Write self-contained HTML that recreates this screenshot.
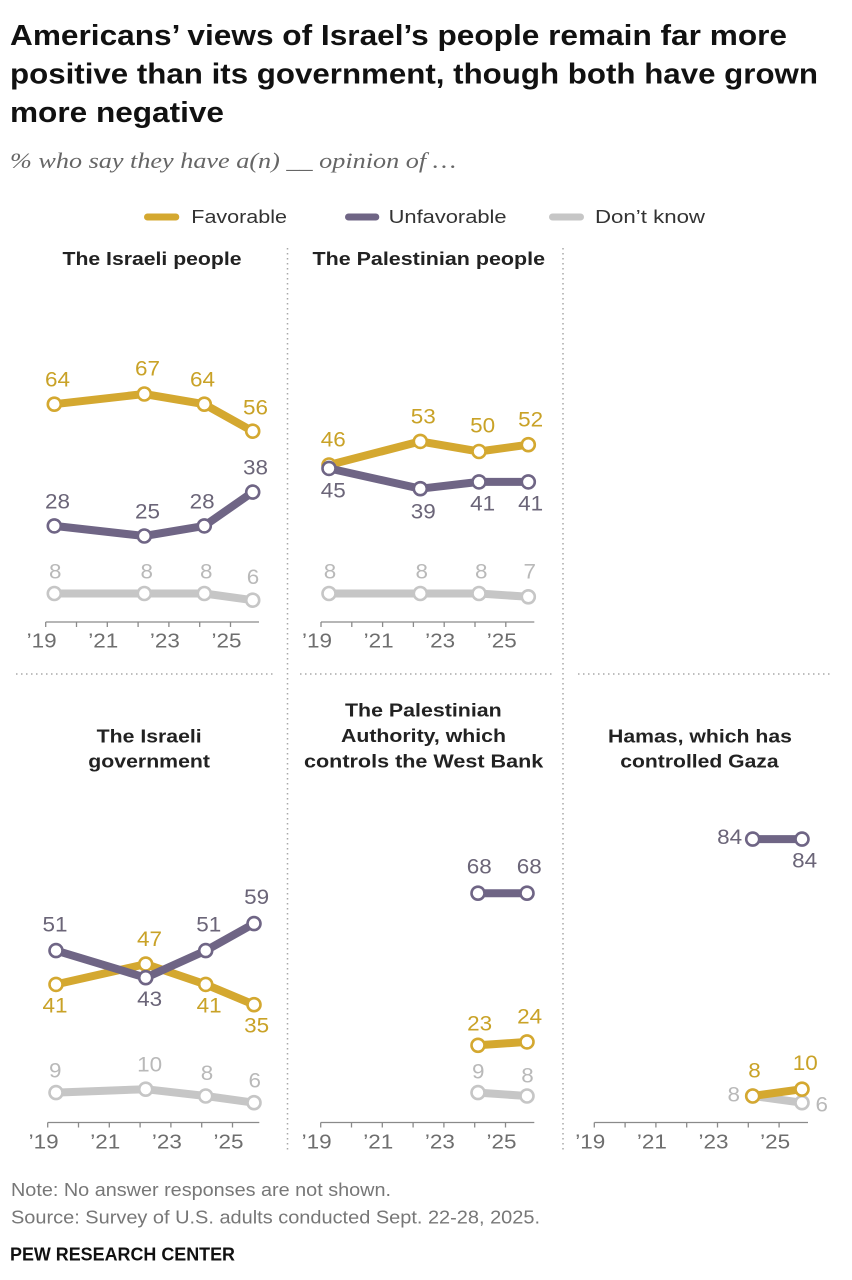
<!DOCTYPE html>
<html><head><meta charset="utf-8">
<style>
html,body{margin:0;padding:0;background:#fff;}
svg{display:block}
</style></head>
<body>
<svg width="852" height="1280" viewBox="0 0 852 1280" xmlns="http://www.w3.org/2000/svg">
<style>
text{font-family:"Liberation Sans",Arial,sans-serif}
.t{font-weight:bold;font-size:28.5px;fill:#111}
.sub{font-family:"Liberation Serif",serif;font-style:italic;font-size:22px;fill:#666}
.lg{font-size:18px;fill:#333}
.pt{font-weight:bold;font-size:18.5px;fill:#222}
.lf{fill:#C9A227;font-size:21px}
.lu{fill:#6B6578;font-size:21px}
.ld{fill:#B9B9B9;font-size:21px}
.tk{fill:#6e6e6e;font-size:20.5px}
.nt{fill:#777;font-size:18px}
.pew{font-weight:bold;font-size:18px;fill:#111}
.div{stroke:#a8a8a8;stroke-width:1.5;stroke-dasharray:1.5 3.5;fill:none}
.ax{stroke:#8a8a8a;stroke-width:1.3;fill:none}
.sf{stroke:#D4A830;stroke-width:8;fill:none;stroke-linejoin:round;stroke-linecap:round}
.su{stroke:#6F6585;stroke-width:8;fill:none;stroke-linejoin:round;stroke-linecap:round}
.sd{stroke:#C6C6C6;stroke-width:8;fill:none;stroke-linejoin:round;stroke-linecap:round}
.mf{fill:#fff;stroke:#D4A830;stroke-width:2.6}
.mu{fill:#fff;stroke:#6F6585;stroke-width:2.6}
.md{fill:#fff;stroke:#C6C6C6;stroke-width:2.6}
</style>

<!-- Title -->
<text class="t" x="10" y="45" textLength="777" lengthAdjust="spacingAndGlyphs">Americans’ views of Israel’s people remain far more</text>
<text class="t" x="10" y="83.5" textLength="808" lengthAdjust="spacingAndGlyphs">positive than its government, though both have grown</text>
<text class="t" x="10" y="122" textLength="214" lengthAdjust="spacingAndGlyphs">more negative</text>
<text class="sub" x="10" y="168" textLength="446" lengthAdjust="spacingAndGlyphs">% who say they have a(n) __ opinion of …</text>

<!-- Legend -->
<line x1="147.5" y1="217" x2="175.8" y2="217" stroke="#D4A830" stroke-width="7" stroke-linecap="round"/>
<text class="lg" x="191.3" y="223" textLength="95.7" lengthAdjust="spacingAndGlyphs">Favorable</text>
<line x1="348.5" y1="217" x2="375.8" y2="217" stroke="#6F6585" stroke-width="7" stroke-linecap="round"/>
<text class="lg" x="388.6" y="223" textLength="118" lengthAdjust="spacingAndGlyphs">Unfavorable</text>
<line x1="552.5" y1="217" x2="580.5" y2="217" stroke="#C6C6C6" stroke-width="7" stroke-linecap="round"/>
<text class="lg" x="595" y="223" textLength="110" lengthAdjust="spacingAndGlyphs">Don’t know</text>

<!-- Dividers -->
<line class="div" x1="287.5" y1="248" x2="287.5" y2="1150"/>
<line class="div" x1="563" y1="248" x2="563" y2="1150"/>
<line class="div" x1="16" y1="674" x2="273" y2="674"/>
<line class="div" x1="300" y1="674" x2="553" y2="674"/>
<line class="div" x1="578" y1="674" x2="831" y2="674"/>

<!-- Panel titles -->
<text class="pt" x="62.5" y="265" textLength="179" lengthAdjust="spacingAndGlyphs">The Israeli people</text>
<text class="pt" x="312.5" y="265" textLength="232.5" lengthAdjust="spacingAndGlyphs">The Palestinian people</text>
<text class="pt" x="96.7" y="742.3" textLength="105" lengthAdjust="spacingAndGlyphs">The Israeli</text>
<text class="pt" x="88.3" y="767.5" textLength="121.7" lengthAdjust="spacingAndGlyphs">government</text>
<text class="pt" x="345" y="716.3" textLength="156.7" lengthAdjust="spacingAndGlyphs">The Palestinian</text>
<text class="pt" x="341" y="742" textLength="165" lengthAdjust="spacingAndGlyphs">Authority, which</text>
<text class="pt" x="304" y="767.3" textLength="239.3" lengthAdjust="spacingAndGlyphs">controls the West Bank</text>
<text class="pt" x="608" y="742.3" textLength="184" lengthAdjust="spacingAndGlyphs">Hamas, which has</text>
<text class="pt" x="620.3" y="767.3" textLength="158.3" lengthAdjust="spacingAndGlyphs">controlled Gaza</text>

<!-- Axes -->
<path class="ax" d="M45.7 622H259 M45.7 622v5 M76.5 622v5 M107.3 622v5 M138.1 622v5 M168.9 622v5 M199.7 622v5 M230.5 622v5"/>
<path class="ax" d="M321 622H534.3 M321 622v5 M351.8 622v5 M382.6 622v5 M413.4 622v5 M444.2 622v5 M475 622v5 M505.8 622v5"/>
<path class="ax" d="M47.7 1122.5H259.3 M47.7 1122.5v5 M78.5 1122.5v5 M109.3 1122.5v5 M140.1 1122.5v5 M170.9 1122.5v5 M201.7 1122.5v5 M232.5 1122.5v5"/>
<path class="ax" d="M320.7 1122.5H534.3 M320.7 1122.5v5 M351.5 1122.5v5 M382.3 1122.5v5 M413.1 1122.5v5 M443.9 1122.5v5 M474.7 1122.5v5 M505.5 1122.5v5"/>
<path class="ax" d="M594.3 1122.5H808 M594.3 1122.5v5 M625.1 1122.5v5 M655.9 1122.5v5 M686.7 1122.5v5 M717.5 1122.5v5 M748.3 1122.5v5 M779.1 1122.5v5"/>

<!-- Tick labels -->
<g class="tk">
<text x="26.7" y="647.3" textLength="30" lengthAdjust="spacingAndGlyphs">’19</text>
<text x="88.3" y="647.3" textLength="30" lengthAdjust="spacingAndGlyphs">’21</text>
<text x="149.9" y="647.3" textLength="30" lengthAdjust="spacingAndGlyphs">’23</text>
<text x="211.5" y="647.3" textLength="30" lengthAdjust="spacingAndGlyphs">’25</text>
<text x="302" y="647.3" textLength="30" lengthAdjust="spacingAndGlyphs">’19</text>
<text x="363.6" y="647.3" textLength="30" lengthAdjust="spacingAndGlyphs">’21</text>
<text x="425.2" y="647.3" textLength="30" lengthAdjust="spacingAndGlyphs">’23</text>
<text x="486.8" y="647.3" textLength="30" lengthAdjust="spacingAndGlyphs">’25</text>
<text x="28.7" y="1148.3" textLength="30" lengthAdjust="spacingAndGlyphs">’19</text>
<text x="90.3" y="1148.3" textLength="30" lengthAdjust="spacingAndGlyphs">’21</text>
<text x="151.9" y="1148.3" textLength="30" lengthAdjust="spacingAndGlyphs">’23</text>
<text x="213.5" y="1148.3" textLength="30" lengthAdjust="spacingAndGlyphs">’25</text>
<text x="301.7" y="1148.3" textLength="30" lengthAdjust="spacingAndGlyphs">’19</text>
<text x="363.3" y="1148.3" textLength="30" lengthAdjust="spacingAndGlyphs">’21</text>
<text x="424.9" y="1148.3" textLength="30" lengthAdjust="spacingAndGlyphs">’23</text>
<text x="486.5" y="1148.3" textLength="30" lengthAdjust="spacingAndGlyphs">’25</text>
<text x="575.3" y="1148.3" textLength="30" lengthAdjust="spacingAndGlyphs">’19</text>
<text x="636.9" y="1148.3" textLength="30" lengthAdjust="spacingAndGlyphs">’21</text>
<text x="698.5" y="1148.3" textLength="30" lengthAdjust="spacingAndGlyphs">’23</text>
<text x="760.1" y="1148.3" textLength="30" lengthAdjust="spacingAndGlyphs">’25</text>
</g>

<!-- Panel 1: Israeli people -->
<polyline class="sd" points="54.3,593.5 144.3,593.5 204.3,593.5 252.7,600.2"/>
<circle class="md" cx="54.3" cy="593.5" r="6.5"/><circle class="md" cx="144.3" cy="593.5" r="6.5"/><circle class="md" cx="204.3" cy="593.5" r="6.5"/><circle class="md" cx="252.7" cy="600.2" r="6.5"/>
<polyline class="sf" points="54.3,404.2 144.3,394 204.3,404.2 252.7,431.2"/>
<circle class="mf" cx="54.3" cy="404.2" r="6.5"/><circle class="mf" cx="144.3" cy="394" r="6.5"/><circle class="mf" cx="204.3" cy="404.2" r="6.5"/><circle class="mf" cx="252.7" cy="431.2" r="6.5"/>
<polyline class="su" points="54.3,525.9 144.3,536 204.3,525.9 252.7,492.1"/>
<circle class="mu" cx="54.3" cy="525.9" r="6.5"/><circle class="mu" cx="144.3" cy="536" r="6.5"/><circle class="mu" cx="204.3" cy="525.9" r="6.5"/><circle class="mu" cx="252.7" cy="492.1" r="6.5"/>

<g class="lf">
<text x="45" y="386.6" textLength="25" lengthAdjust="spacingAndGlyphs">64</text>
<text x="135" y="375.6" textLength="25" lengthAdjust="spacingAndGlyphs">67</text>
<text x="190" y="386.6" textLength="25" lengthAdjust="spacingAndGlyphs">64</text>
<text x="243" y="414.3" textLength="25" lengthAdjust="spacingAndGlyphs">56</text>
</g>
<g class="lu">
<text x="45" y="508.3" textLength="25" lengthAdjust="spacingAndGlyphs">28</text>
<text x="135" y="518.3" textLength="25" lengthAdjust="spacingAndGlyphs">25</text>
<text x="189.7" y="508.3" textLength="25" lengthAdjust="spacingAndGlyphs">28</text>
<text x="243" y="474.3" textLength="25" lengthAdjust="spacingAndGlyphs">38</text>
</g>
<g class="ld">
<text x="49" y="578.3" textLength="12.5" lengthAdjust="spacingAndGlyphs">8</text>
<text x="140.5" y="578.3" textLength="12.5" lengthAdjust="spacingAndGlyphs">8</text>
<text x="200" y="578.3" textLength="12.5" lengthAdjust="spacingAndGlyphs">8</text>
<text x="246.8" y="583.9" textLength="12.5" lengthAdjust="spacingAndGlyphs">6</text>
</g>

<!-- Panel 2: Palestinian people -->
<polyline class="sd" points="329,593.5 420.3,593.5 479,593.5 528.3,596.8"/>
<circle class="md" cx="329" cy="593.5" r="6.5"/><circle class="md" cx="420.3" cy="593.5" r="6.5"/><circle class="md" cx="479" cy="593.5" r="6.5"/><circle class="md" cx="528.3" cy="596.8" r="6.5"/>
<polyline class="sf" points="329,465 420.3,441.4 479,451.5 528.3,444.7"/>
<circle class="mf" cx="329" cy="465" r="6.5"/><circle class="mf" cx="420.3" cy="441.4" r="6.5"/><circle class="mf" cx="479" cy="451.5" r="6.5"/><circle class="mf" cx="528.3" cy="444.7" r="6.5"/>
<polyline class="su" points="329,468.4 420.3,488.7 479,481.9 528.3,481.9"/>
<circle class="mu" cx="329" cy="468.4" r="6.5"/><circle class="mu" cx="420.3" cy="488.7" r="6.5"/><circle class="mu" cx="479" cy="481.9" r="6.5"/><circle class="mu" cx="528.3" cy="481.9" r="6.5"/>

<g class="lf">
<text x="320.8" y="446.6" textLength="25" lengthAdjust="spacingAndGlyphs">46</text>
<text x="410.8" y="423.3" textLength="25" lengthAdjust="spacingAndGlyphs">53</text>
<text x="470.2" y="432.6" textLength="25" lengthAdjust="spacingAndGlyphs">50</text>
<text x="518.2" y="426.6" textLength="25" lengthAdjust="spacingAndGlyphs">52</text>
</g>
<g class="lu">
<text x="320.8" y="497.3" textLength="25" lengthAdjust="spacingAndGlyphs">45</text>
<text x="410.8" y="518.3" textLength="25" lengthAdjust="spacingAndGlyphs">39</text>
<text x="470.2" y="510.6" textLength="25" lengthAdjust="spacingAndGlyphs">41</text>
<text x="518.2" y="510.6" textLength="25" lengthAdjust="spacingAndGlyphs">41</text>
</g>
<g class="ld">
<text x="323.8" y="578.3" textLength="12.5" lengthAdjust="spacingAndGlyphs">8</text>
<text x="415.5" y="578.3" textLength="12.5" lengthAdjust="spacingAndGlyphs">8</text>
<text x="475" y="578.3" textLength="12.5" lengthAdjust="spacingAndGlyphs">8</text>
<text x="523.5" y="578.3" textLength="12.5" lengthAdjust="spacingAndGlyphs">7</text>
</g>

<!-- Panel 4: Israeli government -->
<polyline class="sd" points="56,1092.6 145.7,1089.2 205.7,1096 254,1102.7"/>
<circle class="md" cx="56" cy="1092.6" r="6.5"/><circle class="md" cx="145.7" cy="1089.2" r="6.5"/><circle class="md" cx="205.7" cy="1096" r="6.5"/><circle class="md" cx="254" cy="1102.7" r="6.5"/>
<polyline class="sf" points="56,984.4 145.7,964.1 205.7,984.4 254,1004.7"/>
<circle class="mf" cx="56" cy="984.4" r="6.5"/><circle class="mf" cx="145.7" cy="964.1" r="6.5"/><circle class="mf" cx="205.7" cy="984.4" r="6.5"/><circle class="mf" cx="254" cy="1004.7" r="6.5"/>
<polyline class="su" points="56,950.6 145.7,977.7 205.7,950.6 254,923.6"/>
<circle class="mu" cx="56" cy="950.6" r="6.5"/><circle class="mu" cx="145.7" cy="977.7" r="6.5"/><circle class="mu" cx="205.7" cy="950.6" r="6.5"/><circle class="mu" cx="254" cy="923.6" r="6.5"/>

<g class="lu">
<text x="42.5" y="931.6" textLength="25" lengthAdjust="spacingAndGlyphs">51</text>
<text x="137.2" y="1005.9" textLength="25" lengthAdjust="spacingAndGlyphs">43</text>
<text x="196.3" y="931.6" textLength="25" lengthAdjust="spacingAndGlyphs">51</text>
<text x="244.2" y="903.9" textLength="25" lengthAdjust="spacingAndGlyphs">59</text>
</g>
<g class="lf">
<text x="42.5" y="1012.3" textLength="25" lengthAdjust="spacingAndGlyphs">41</text>
<text x="137" y="945.9" textLength="25" lengthAdjust="spacingAndGlyphs">47</text>
<text x="196.7" y="1012.3" textLength="25" lengthAdjust="spacingAndGlyphs">41</text>
<text x="244.2" y="1032.3" textLength="25" lengthAdjust="spacingAndGlyphs">35</text>
</g>
<g class="ld">
<text x="49" y="1077.3" textLength="12.5" lengthAdjust="spacingAndGlyphs">9</text>
<text x="137.2" y="1071.6" textLength="25" lengthAdjust="spacingAndGlyphs">10</text>
<text x="200.8" y="1079.9" textLength="12.5" lengthAdjust="spacingAndGlyphs">8</text>
<text x="248.5" y="1087.3" textLength="12.5" lengthAdjust="spacingAndGlyphs">6</text>
</g>

<!-- Panel 5: Palestinian Authority -->
<polyline class="sd" points="478,1092.6 527,1096"/>
<circle class="md" cx="478" cy="1092.6" r="6.5"/><circle class="md" cx="527" cy="1096" r="6.5"/>
<polyline class="sf" points="478,1045.3 527,1041.9"/>
<circle class="mf" cx="478" cy="1045.3" r="6.5"/><circle class="mf" cx="527" cy="1041.9" r="6.5"/>
<polyline class="su" points="478,893.2 527,893.2"/>
<circle class="mu" cx="478" cy="893.2" r="6.5"/><circle class="mu" cx="527" cy="893.2" r="6.5"/>

<g class="lu">
<text x="466.8" y="873.3" textLength="25" lengthAdjust="spacingAndGlyphs">68</text>
<text x="516.8" y="873.3" textLength="25" lengthAdjust="spacingAndGlyphs">68</text>
</g>
<g class="lf">
<text x="467.2" y="1030.6" textLength="25" lengthAdjust="spacingAndGlyphs">23</text>
<text x="517.2" y="1023.3" textLength="25" lengthAdjust="spacingAndGlyphs">24</text>
</g>
<g class="ld">
<text x="472" y="1078.3" textLength="12.5" lengthAdjust="spacingAndGlyphs">9</text>
<text x="521.3" y="1082.6" textLength="12.5" lengthAdjust="spacingAndGlyphs">8</text>
</g>

<!-- Panel 6: Hamas -->
<polyline class="sd" points="752.7,1096 802,1102.7"/>
<circle class="md" cx="752.7" cy="1096" r="6.5"/><circle class="md" cx="802" cy="1102.7" r="6.5"/>
<polyline class="sf" points="752.7,1096 802,1089.2"/>
<circle class="mf" cx="752.7" cy="1096" r="6.5"/><circle class="mf" cx="802" cy="1089.2" r="6.5"/>
<polyline class="su" points="752.7,839.1 802,839.1"/>
<circle class="mu" cx="752.7" cy="839.1" r="6.5"/><circle class="mu" cx="802" cy="839.1" r="6.5"/>

<g class="lu">
<text x="717.2" y="843.9" textLength="25" lengthAdjust="spacingAndGlyphs">84</text>
<text x="792.2" y="867.6" textLength="25" lengthAdjust="spacingAndGlyphs">84</text>
</g>
<g class="lf">
<text x="748.3" y="1077.3" textLength="12.5" lengthAdjust="spacingAndGlyphs">8</text>
<text x="792.8" y="1069.9" textLength="25" lengthAdjust="spacingAndGlyphs">10</text>
</g>
<g class="ld">
<text x="727.5" y="1101.6" textLength="12.5" lengthAdjust="spacingAndGlyphs">8</text>
<text x="815.5" y="1111.6" textLength="12.5" lengthAdjust="spacingAndGlyphs">6</text>
</g>

<!-- Footer -->
<text class="nt" x="11" y="1196" textLength="380" lengthAdjust="spacingAndGlyphs">Note: No answer responses are not shown.</text>
<text class="nt" x="11" y="1223.3" textLength="529" lengthAdjust="spacingAndGlyphs">Source: Survey of U.S. adults conducted Sept. 22-28, 2025.</text>
<text class="pew" x="10" y="1260.7" textLength="225" lengthAdjust="spacingAndGlyphs">PEW RESEARCH CENTER</text>
</svg>
</body></html>
